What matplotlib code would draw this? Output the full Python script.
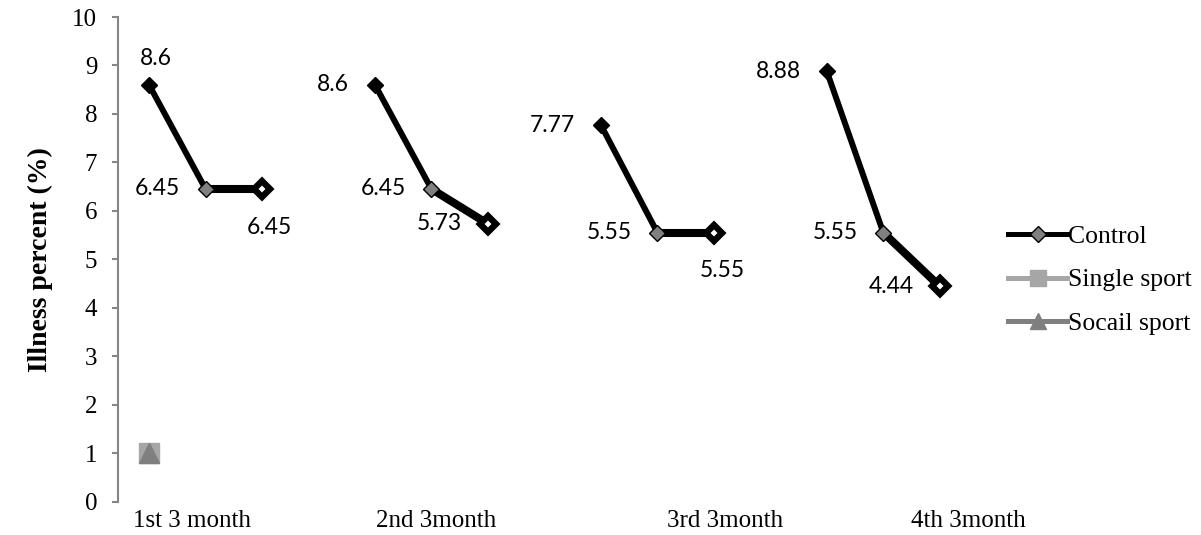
import numpy as np
import matplotlib
matplotlib.use("Agg")
import matplotlib.pyplot as plt
from matplotlib.lines import Line2D

# ---- data ----
period_labels = ["1st 3 month", "2nd 3month", "3rd 3month", "4th 3month"]
control = [8.6, 6.45, 6.45, np.nan, 8.6, 6.45, 5.73, np.nan, 7.77, 5.55, 5.55, np.nan, 8.88, 5.55, 4.44]
single_sport = [1.0] + [np.nan] * 14
social_sport = [1.0] + [np.nan] * 14
value_labels = ["8.6", "6.45", "6.45", "", "8.6", "6.45", "5.73", "", "7.77", "5.55", "5.55", "", "8.88", "5.55", "4.44"]
series_names = ["Control", "Single sport", "Socail sport"]

serif = "Liberation Serif"
sans = "Lato"

W, H = 1201, 535
fig = plt.figure(figsize=(W / 100, H / 100), dpi=100)
ax = fig.add_axes([118 / W, 1 - 501.5 / H, 850 / W, 484.5 / H])

x = np.arange(len(control))
vals = np.array(control, dtype=float)

# split into runs of consecutive values
runs, cur = [], []
for i, v in enumerate(vals):
    if np.isnan(v):
        if cur:
            runs.append(cur)
        cur = []
    else:
        cur.append(i)
if cur:
    runs.append(cur)

for run in runs:
    for k in range(len(run) - 1):
        a, b = run[k], run[k + 1]
        lw = 4.3 if k == 0 else 5.8
        ax.plot([x[a], x[b]], [vals[a], vals[b]], color="black", lw=lw,
                solid_capstyle="butt", zorder=2)
    for k, i in enumerate(run):
        if k == 0:
            ax.plot(x[i], vals[i], marker="D", ms=8.6, mfc="black", mec="black", mew=1, zorder=3)
        elif k == 1:
            ax.plot(x[i], vals[i], marker="D", ms=8.3, mfc="#808080", mec="black", mew=1, zorder=3)
        else:
            ax.plot(x[i], vals[i], marker="D", ms=8.0, mfc="white", mec="black", mew=4.6, zorder=3)

# single / social sport points
ax.plot(x, single_sport, marker="s", ms=15, color="#A6A6A6", ls="none", zorder=3)
ax.plot(x, social_sport, marker="^", ms=14, color="#7F7F7F", ls="none", zorder=4)

# data labels (offsets in points)
left = (-18.5, 0, "right", "center")
label_pos = {
    0: (5, 19, "center", "center"),
    1: left,
    2: (5, -20, "center", "top"),
    4: left,
    5: left,
    6: left,
    8: left,
    9: left,
    10: (6, -20, "center", "top"),
    12: left,
    13: left,
    14: left,
}
for i, (dx, dy, ha, va) in label_pos.items():
    ax.annotate(value_labels[i], (x[i], vals[i]), xytext=(dx, dy), textcoords="offset points",
                ha=ha, va=va, fontsize=16.5, family=sans, color="black")

ax.set_xlim(-0.55, len(control) - 0.5)
ax.set_ylim(0, 10)
ax.set_yticks(range(0, 11))
ax.set_yticklabels([str(i) for i in range(0, 11)], family=serif, fontsize=18)
ax.set_xticks([0.76, 5.08, 10.2, 14.5])
ax.set_xticklabels(period_labels, family=serif, fontsize=18)
ax.tick_params(axis="x", length=0, pad=6)
ax.tick_params(axis="y", length=4, width=1.5, color="#868686", direction="out", pad=11)
for s in ["top", "right", "bottom"]:
    ax.spines[s].set_visible(False)
ax.spines["left"].set_color("#868686")
ax.spines["left"].set_linewidth(1.5)
ax.set_ylabel("Illness percent (%)", family=serif, fontsize=20, fontweight="bold", labelpad=14)

handles = [
    Line2D([], [], color="black", lw=3.6, marker="D", ms=8.5, mfc="#808080", mec="black"),
    Line2D([], [], color="#A6A6A6", lw=3.6, marker="s", ms=12, mfc="#A6A6A6", mec="#A6A6A6"),
    Line2D([], [], color="#7F7F7F", lw=3.6, marker="^", ms=12, mfc="#7F7F7F", mec="#7F7F7F"),
]
fig.legend(handles, series_names, loc="center left",
           bbox_to_anchor=(1008 / W, 1 - 280 / H), frameon=False,
           prop={"family": serif, "size": 18.5}, handlelength=2.3, handletextpad=0.05,
           labelspacing=0.78, borderaxespad=0, borderpad=0)

fig.savefig("out.png", dpi=100)
